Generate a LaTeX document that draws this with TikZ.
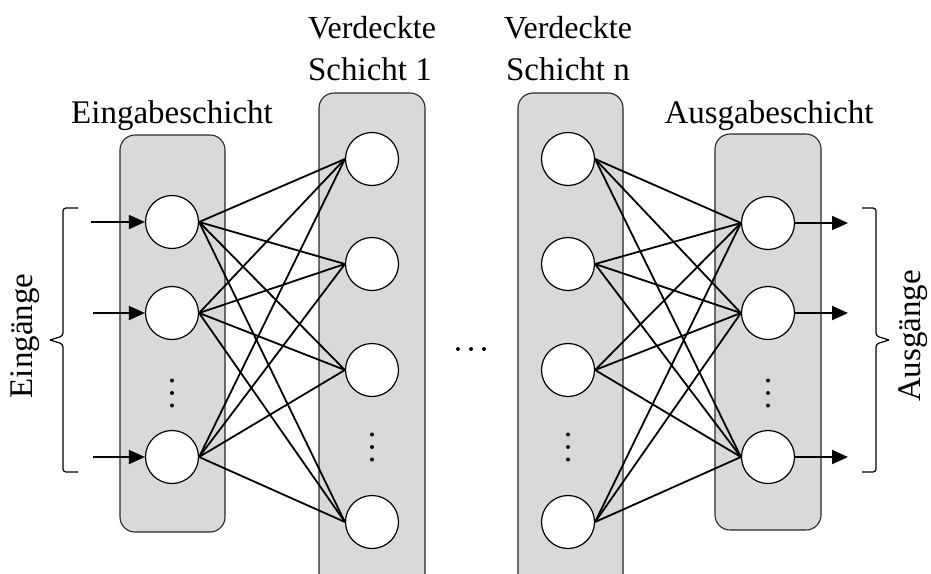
\documentclass[tikz,border=0pt]{standalone}
\usepackage{fontspec}
\setmainfont{Liberation Serif}
\usetikzlibrary{arrows.meta}
\begin{document}
\begin{tikzpicture}[x=1pt,y=-1pt,
  layerbox/.style={draw=black!85,fill=black!15,line width=1.1pt,rounded corners=15pt},
  neuron/.style={circle,draw=black,fill=white,line width=1.2pt,minimum size=53pt,inner sep=0pt},
  link/.style={line width=1.8pt},
  io/.style={line width=1.8pt,-{Triangle[length=16pt,width=14pt]}},
  lbl/.style={font=\fontsize{33}{41}\selectfont,inner sep=0pt,anchor=base},
  dotsym/.style={circle,fill=black,inner sep=0pt,minimum size=4pt},
  bracket/.style={line width=1.2pt,rounded corners=3pt}]
\useasboundingbox (0,0) rectangle (931,573);
\clip (0,0) rectangle (931,573);

% layer boxes
\draw[layerbox] (120,135) rectangle (225,532);
\draw[layerbox] (319,93) rectangle (425,610);
\draw[layerbox] (518,93) rectangle (623,610);
\draw[layerbox] (715,134) rectangle (821,530);

% layer titles
\node[lbl] (tin) at (172,123) {Eingabeschicht};
\node[lbl,font=\fontsize{32}{41}\selectfont] (th1a) at (372,38) {Verdeckte};
\node[lbl] (th1b) at (370,80) {Schicht 1};
\node[lbl,font=\fontsize{32}{41}\selectfont] (thna) at (568,38) {Verdeckte};
\node[lbl] (thnb) at (568,80) {Schicht n};
\node[lbl] (tout) at (769,123) {Ausgabeschicht};

% input layer
\node[neuron] (i1) at (172,222) {};
\node[neuron] (i2) at (172,313) {};
\node[neuron] (i3) at (172,457) {};

% hidden layer 1
\node[neuron] (a1) at (372,159) {};
\node[neuron] (a2) at (372,264) {};
\node[neuron] (a3) at (372,370) {};
\node[neuron] (a4) at (372,522) {};

% hidden layer n
\node[neuron] (b1) at (568,159) {};
\node[neuron] (b2) at (568,264) {};
\node[neuron] (b3) at (568,370) {};
\node[neuron] (b4) at (568,522) {};

% output layer
\node[neuron] (o1) at (768,223) {};
\node[neuron] (o2) at (768,313) {};
\node[neuron] (o3) at (768,457) {};

% vertical ellipses inside the layers
\foreach \cx/\cy in {172/393, 372/447, 568/447, 768/393}
  \foreach \d in {-12.5,0,12.5}
    \node[dotsym] at (\cx,\cy+\d) {};

% horizontal ellipsis between the hidden layers
\foreach \d in {-13,0,13}
  \node[dotsym] at (471+\d,349) {};

% full connections
\foreach \s in {i1,i2,i3}
  \foreach \t in {a1,a2,a3,a4}
    \draw[link] (\s.east) -- (\t.west);
\foreach \s in {b1,b2,b3,b4}
  \foreach \t in {o1,o2,o3}
    \draw[link] (\s.east) -- (\t.west);

% inputs
\coordinate (x1) at (91,222);
\coordinate (x2) at (93,313);
\coordinate (x3) at (93,457);
\draw[io] (x1) -- (i1.west);
\draw[io] (x2) -- (i2.west);
\draw[io] (x3) -- (i3.west);

% outputs
\coordinate (y1) at (848,223);
\coordinate (y2) at (848,313);
\coordinate (y3) at (848,457);
\draw[io] (o1.east) -- (y1);
\draw[io] (o2.east) -- (y2);
\draw[io] (o3.east) -- (y3);

% brackets
\draw[bracket] (78,208) -- (63,208) -- (63,336) -- (50,340);
\draw[bracket] (50,340) -- (63,344) -- (63,472) -- (78,472);
\draw[bracket] (862,208) -- (876,208) -- (876,336) -- (889,340);
\draw[bracket] (889,340) -- (876,344) -- (876,472) -- (862,472);

\node[lbl,anchor=center,rotate=90] (ein) at (25,336) {Eingänge};
\node[lbl,anchor=center,rotate=90] (aus) at (913,336) {Ausgänge};
\end{tikzpicture}
\end{document}
